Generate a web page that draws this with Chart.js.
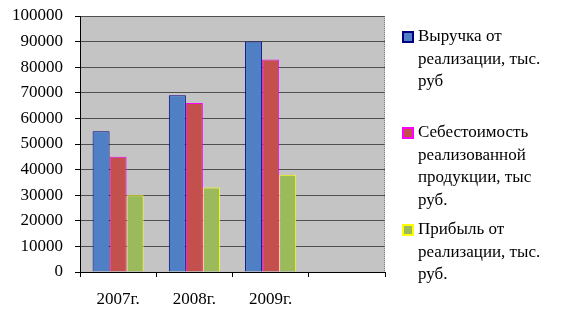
<!DOCTYPE html>
<html>
<head>
<meta charset="utf-8">
<script src="https://cdn.jsdelivr.net/npm/chart.js@4"></script>
<style>
  html, body { margin: 0; padding: 0; background: #fff; }
  #wrap { width: 567px; height: 317px; }
</style>
</head>
<body>
<div id="wrap"><canvas id="myChart" width="567" height="317"></canvas></div>
<script>
const years = ['2007г.', '2008г.', '2009г.', '']
const revenue = [55000, 69000, 90000, null]
const cost = [45000, 66000, 83000, null]
const profit = [30000, 33000, 38000, null]
const seriesNames = [
  ['Выручка от', 'реализации, тыс.', 'руб'],
  ['Себестоимость', 'реализованной', 'продукции, тыс', 'руб.'],
  ['Прибыль от', 'реализации, тыс.', 'руб.']
]

const font = { family: '"Liberation Serif", "Times New Roman", serif', size: 17 }

// gray plot area like the old Excel chart
const plotBg = {
  id: 'plotBg',
  beforeDraw (chart) {
    const { ctx, chartArea: a } = chart
    ctx.save()
    ctx.fillStyle = '#c4c4c4'
    ctx.fillRect(a.left, a.top, a.right - a.left, a.bottom - a.top)
    ctx.strokeStyle = '#808080'
    ctx.setLineDash([1, 1])
    ctx.beginPath()
    ctx.moveTo(a.left, a.top + 0.5)
    ctx.lineTo(a.right - 0.5, a.top + 0.5)
    ctx.lineTo(a.right - 0.5, a.bottom)
    ctx.stroke()
    ctx.restore()
  }
}

// legend on the right with wrapped names
const sideLegend = {
  id: 'sideLegend',
  afterDraw (chart) {
    const { ctx } = chart
    const starts = [37, 133, 230]
    ctx.save()
    ctx.font = font.size + 'px ' + font.family
    ctx.textBaseline = 'middle'
    chart.data.datasets.forEach((ds, i) => {
      const y0 = starts[i]
      ctx.fillStyle = ds.backgroundColor
      ctx.fillRect(403, y0 - 5, 10, 10)
      ctx.strokeStyle = ds.borderColor
      ctx.lineWidth = 2
      ctx.strokeRect(403, y0 - 5, 10, 10)
      ctx.fillStyle = '#000'
      seriesNames[i].forEach((line, j) => {
        ctx.fillText(line, 418, y0 + j * 22.5)
      })
    })
    ctx.restore()
  }
}

new Chart(document.getElementById('myChart'), {
  type: 'bar',
  data: {
    labels: years,
    datasets: [
      { label: seriesNames[0].join(' '), data: revenue, backgroundColor: '#4f80c6', borderColor: '#000080', borderWidth: 1 },
      { label: seriesNames[1].join(' '), data: cost, backgroundColor: '#c4504e', borderColor: '#ff00ff', borderWidth: 1 },
      { label: seriesNames[2].join(' '), data: profit, backgroundColor: '#9aba5c', borderColor: '#ffff00', borderWidth: 1 }
    ]
  },
  options: {
    responsive: false,
    animation: false,
    layout: { padding: { top: 16, right: 182, left: 0, bottom: 0 } },
    datasets: { bar: { barPercentage: 1, categoryPercentage: 0.67 } },
    plugins: {
      legend: { display: false },
      tooltip: { enabled: false }
    },
    scales: {
      x: {
        afterFit (axis) { axis.height = 45; axis.paddingLeft = 0; axis.paddingRight = 0 },
        border: { color: '#000', width: 1 },
        grid: { drawOnChartArea: false, drawTicks: true, tickLength: 5, color: '#000', offset: true },
        ticks: { color: '#000', font, padding: 12, maxRotation: 0 }
      },
      y: {
        min: 0,
        max: 100000,
        afterFit (axis) { axis.width = 80; axis.paddingTop = 0; axis.paddingBottom = 0 },
        border: { color: '#000', width: 1 },
        grid: { color: '#505050', tickLength: 5, tickColor: '#000' },
        ticks: { stepSize: 10000, color: '#000', font, padding: 12, callback: v => String(v) }
      }
    }
  },
  plugins: [plotBg, sideLegend]
})
</script>
</body>
</html>
